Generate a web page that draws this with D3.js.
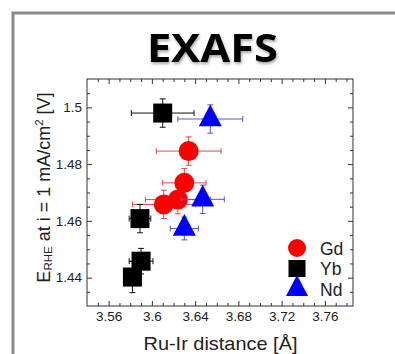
<!DOCTYPE html>
<html>
<head>
<meta charset="utf-8">
<script src="https://cdn.jsdelivr.net/npm/d3@7/dist/d3.min.js"></script>
<style>
html,body{margin:0;padding:0;background:#fff;}
svg{display:block;}
</style>
</head>
<body>
<svg id="chart" width="395" height="354"></svg>
<script>
// ---- data ----
const seriesNames = ["Gd", "Yb", "Nd"];
const gdX = [3.634, 3.630, 3.624, 3.611];
const gdY = [1.4846, 1.4734, 1.4675, 1.4658];
const gdXErr = [0.030, 0.020, 0.030, 0.029];
const gdYErr = [0.005, 0.005, 0.005, 0.005];

const ybX = [3.610, 3.589, 3.590, 3.582];
const ybY = [1.4980, 1.4608, 1.4458, 1.4402];
const ybXErr = [0.029, 0.010, 0.011, 0.008];
const ybYErr = [0.005, 0.005, 0.0045, 0.0055];

const ndX = [3.654, 3.647, 3.630];
const ndY = [1.4959, 1.4676, 1.4573];
const ndXErr = [0.030, 0.020, 0.013];
const ndYErr = [0.005, 0.005, 0.004];

const xTicks = [3.56, 3.60, 3.64, 3.68, 3.72, 3.76];
const xTickLabels = ["3.56", "3.6", "3.64", "3.68", "3.72", "3.76"];
const yTicks = [1.44, 1.46, 1.48, 1.50];
const yTickLabels = ["1.44", "1.46", "1.48", "1.5"];

// ---- layout ----
const svg = d3.select("#chart");
const L = 87, R = 353, T = 79, B = 306;
const x = d3.scaleLinear().domain([3.54, 3.786]).range([L, R]);
const y = d3.scaleLinear().domain([1.43, 1.51]).range([B, T]);

const FONT = "'Liberation Sans', Arial, sans-serif";

// defs: title shadow
const defs = svg.append("defs");
const f = defs.append("filter").attr("id", "shadow").attr("x", "-20%").attr("y", "-20%").attr("width", "140%").attr("height", "150%");
f.append("feGaussianBlur").attr("in", "SourceAlpha").attr("stdDeviation", 1.6).attr("result", "b");
f.append("feOffset").attr("in", "b").attr("dx", 1).attr("dy", 2).attr("result", "o");
f.append("feComponentTransfer").attr("in", "o").attr("result", "o2")
  .append("feFuncA").attr("type", "linear").attr("slope", 0.35);
const fm = f.append("feMerge");
fm.append("feMergeNode").attr("in", "o2");
fm.append("feMergeNode").attr("in", "SourceGraphic");

// outer frame
svg.append("rect").attr("x", 13).attr("y", 13).attr("width", 420).attr("height", 360)
  .attr("fill", "none").attr("stroke", "#8c8c8c").attr("stroke-width", 3);

// title
svg.append("text").attr("x", 212.5).attr("y", 62).attr("text-anchor", "middle")
  .attr("font-family", "'Open Sans', 'DejaVu Sans', sans-serif").attr("font-weight", "bold")
  .attr("font-size", 40).attr("fill", "#000")
  .attr("textLength", 131).attr("lengthAdjust", "spacingAndGlyphs")
  .attr("filter", "url(#shadow)")
  .text("EXAFS");

// axes
const axColor = "#333";
function styleAxis(g) {
  g.select(".domain").remove();
  g.selectAll(".tick line").attr("stroke", axColor).attr("stroke-width", 1);
  g.selectAll(".tick text").attr("font-family", FONT).attr("font-size", 13.5).attr("fill", "#222");
}
const xMinor = d3.range(3.55, 3.786, 0.01).filter(v => !xTicks.some(t => Math.abs(t - v) < 1e-6));
const yMinor = d3.range(1.435, 1.51, 0.005).filter(v => !yTicks.some(t => Math.abs(t - v) < 1e-6));

// bottom
svg.append("g").attr("transform", `translate(0,${B})`)
  .call(d3.axisBottom(x).tickValues(xTicks).tickSizeInner(-5).tickSizeOuter(0).tickPadding(5)
    .tickFormat((d, i) => xTickLabels[i])).call(styleAxis);
svg.append("g").attr("transform", `translate(0,${B})`)
  .call(d3.axisBottom(x).tickValues(xMinor).tickSizeInner(-3).tickSizeOuter(0).tickFormat("")).call(styleAxis);
// top
svg.append("g").attr("transform", `translate(0,${T})`)
  .call(d3.axisTop(x).tickValues(xTicks).tickSizeInner(-5).tickSizeOuter(0).tickFormat("")).call(styleAxis);
svg.append("g").attr("transform", `translate(0,${T})`)
  .call(d3.axisTop(x).tickValues(xMinor).tickSizeInner(-3).tickSizeOuter(0).tickFormat("")).call(styleAxis);
// left
svg.append("g").attr("transform", `translate(${L},0)`)
  .call(d3.axisLeft(y).tickValues(yTicks).tickSizeInner(-5).tickSizeOuter(0).tickPadding(5)
    .tickFormat((d, i) => yTickLabels[i])).call(styleAxis);
svg.append("g").attr("transform", `translate(${L},0)`)
  .call(d3.axisLeft(y).tickValues(yMinor).tickSizeInner(-3).tickSizeOuter(0).tickFormat("")).call(styleAxis);
// right
svg.append("g").attr("transform", `translate(${R},0)`)
  .call(d3.axisRight(y).tickValues(yTicks).tickSizeInner(-5).tickSizeOuter(0).tickFormat("")).call(styleAxis);
svg.append("g").attr("transform", `translate(${R},0)`)
  .call(d3.axisRight(y).tickValues(yMinor).tickSizeInner(-3).tickSizeOuter(0).tickFormat("")).call(styleAxis);

// frame
svg.append("rect").attr("x", L).attr("y", T).attr("width", R - L).attr("height", B - T)
  .attr("fill", "none").attr("stroke", axColor).attr("stroke-width", 1);

// axis titles
svg.append("text").attr("x", 220.5).attr("y", 350).attr("text-anchor", "middle")
  .attr("font-family", FONT).attr("font-size", 18.5).attr("fill", "#222")
  .attr("textLength", 154).attr("lengthAdjust", "spacingAndGlyphs")
  .text("Ru-Ir distance [Å]");

const yt = svg.append("text").attr("transform", "translate(50,187.5) rotate(-90)")
  .attr("text-anchor", "middle").attr("font-family", FONT).attr("font-size", 18).attr("fill", "#222");
yt.append("tspan").text("E");
yt.append("tspan").attr("font-size", 11.5).attr("dy", 2).text("RHE");
yt.append("tspan").attr("dy", -2).text(" at i = 1 mA/cm");
yt.append("tspan").attr("font-size", 11.5).attr("dy", -7).text("2");
yt.append("tspan").attr("dy", 7).text(" [V]");

// ---- marks ----
const triType = {
  draw(ctx, size) {
    const w = Math.sqrt(size), h = w * 0.95;
    ctx.moveTo(0, -h * 2 / 3);
    ctx.lineTo(w / 2, h / 3);
    ctx.lineTo(-w / 2, h / 3);
    ctx.closePath();
  }
};
const series = [
  { name: seriesNames[0], xs: gdX, ys: gdY, xe: gdXErr, ye: gdYErr, fill: "#ff0000", err: "#e04848", type: d3.symbolCircle, size: Math.PI * 100 },
  { name: seriesNames[1], xs: ybX, ys: ybY, xe: ybXErr, ye: ybYErr, fill: "#000000", err: "#111111", type: d3.symbolSquare, size: 19 * 19 },
  { name: seriesNames[2], xs: ndX, ys: ndY, xe: ndXErr, ye: ndYErr, fill: "#0000ff", err: "#5656d8", type: triType, size: 23 * 23 }
];

const cap = 3;
series.forEach(s => {
  const g = svg.append("g");
  const pts = s.xs.map((v, i) => ({ x: v, y: s.ys[i], xe: s.xe[i], ye: s.ye[i] }));
  const eb = g.append("g").attr("stroke", s.err).attr("stroke-width", 1).attr("fill", "none");
  pts.forEach(p => {
    const cx = x(p.x), cy = y(p.y);
    const x0 = x(p.x - p.xe), x1 = x(p.x + p.xe), y0 = y(p.y - p.ye), y1 = y(p.y + p.ye);
    eb.append("path").attr("d",
      `M${x0},${cy}H${x1}M${x0},${cy - cap}V${cy + cap}M${x1},${cy - cap}V${cy + cap}` +
      `M${cx},${y0}V${y1}M${cx - cap},${y0}H${cx + cap}M${cx - cap},${y1}H${cx + cap}`);
  });
  g.selectAll("path.m").data(pts).join("path").attr("class", "m")
    .attr("transform", d => `translate(${x(d.x)},${y(d.y)})`)
    .attr("d", d3.symbol().type(s.type).size(s.size))
    .attr("fill", s.fill);
});

// legend
const lg = svg.append("g");
series.forEach((s, i) => {
  const ly = 248 + i * 20.5;
  lg.append("path").attr("transform", `translate(297,${ly})`)
    .attr("d", d3.symbol().type(s.type).size(s.type === d3.symbolSquare ? 17 * 17 : s.type === d3.symbolCircle ? Math.PI * 81 : 22 * 22))
    .attr("fill", s.fill);
  lg.append("text").attr("x", 320).attr("y", ly + 6.5).attr("font-family", FONT).attr("font-size", 17.5)
    .attr("fill", "#222").text(s.name);
});
</script>
</body>
</html>
